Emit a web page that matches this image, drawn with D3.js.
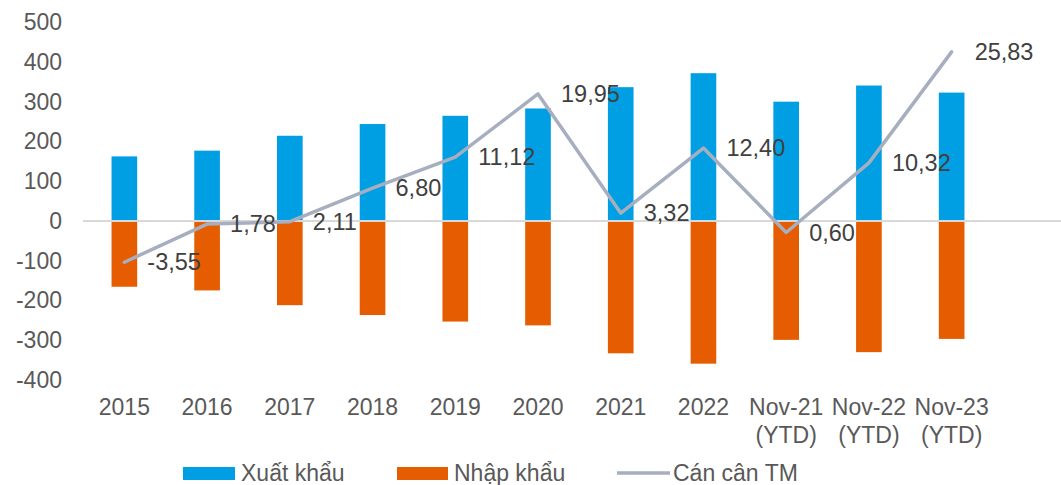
<!DOCTYPE html>
<html>
<head>
<meta charset="utf-8">
<script src="https://cdn.jsdelivr.net/npm/d3@7"></script>
<style>
  body { margin: 0; background: #fff; }
  text { font-family: "Liberation Sans", Arial, sans-serif; }
</style>
</head>
<body>
<div id="chart"></div>
<script>
var w = 1061, h = 485;

// data
var categories = ['2015', '2016', '2017', '2018', '2019', '2020', '2021', '2022', 'Nov-21\n(YTD)', 'Nov-22\n(YTD)', 'Nov-23\n(YTD)'];
var exports_ = [162.1, 176.6, 214.0, 243.5, 264.2, 282.6, 336.2, 371.3, 299.7, 340.3, 322.5];
var imports_ = [-165.6, -174.8, -211.9, -236.7, -253.1, -262.7, -332.9, -358.9, -299.1, -330.0, -296.7];
var balance = [-3.55, 1.78, 2.11, 6.80, 11.12, 19.95, 3.32, 12.40, 0.60, 10.32, 25.83];
var yTicks = [500, 400, 300, 200, 100, 0, -100, -200, -300, -400];

var blue = '#009fe3', orange = '#e65c00', grey = '#a6aebf';

var svg = d3.select('#chart').append('svg')
  .attr('width', w)
  .attr('height', h);

var x = d3.scaleBand()
  .domain(categories)
  .range([83, 993])
  .paddingInner(0.69)
  .paddingOuter(0.345);

var y = d3.scaleLinear().domain([-400, 500]).range([380, 22]);
// secondary (hidden) axis for the balance line
var y2 = d3.scaleLinear().domain([-20, 30]).range([380, 22]);

// y axis labels
svg.selectAll('.ytick')
  .data(yTicks)
  .enter().append('text')
  .attr('class', 'ytick')
  .attr('x', 62)
  .attr('y', function(d) { return y(d); })
  .attr('text-anchor', 'end')
  .attr('dominant-baseline', 'central')
  .attr('font-size', 23)
  .attr('fill', '#595959')
  .text(function(d) { return d; });

// export bars
svg.selectAll('.exp')
  .data(exports_)
  .enter().append('rect')
  .attr('class', 'exp')
  .attr('x', function(d, i) { return x(categories[i]); })
  .attr('y', function(d) { return y(d); })
  .attr('width', x.bandwidth())
  .attr('height', function(d) { return y(0) - y(d); })
  .attr('fill', blue);

// import bars
svg.selectAll('.imp')
  .data(imports_)
  .enter().append('rect')
  .attr('class', 'imp')
  .attr('x', function(d, i) { return x(categories[i]); })
  .attr('y', y(0))
  .attr('width', x.bandwidth())
  .attr('height', function(d) { return y(d) - y(0); })
  .attr('fill', orange);

// zero line
svg.append('line')
  .attr('x1', 83).attr('x2', w)
  .attr('y1', y(0)).attr('y2', y(0))
  .attr('stroke', '#d9d9d9')
  .attr('stroke-width', 2);

// balance line
var cx = function(i) { return x(categories[i]) + x.bandwidth() / 2; };
var line = d3.line()
  .x(function(d, i) { return cx(i); })
  .y(function(d) { return y2(d); });

svg.append('path')
  .datum(balance)
  .attr('d', line)
  .attr('fill', 'none')
  .attr('stroke', grey)
  .attr('stroke-width', 3.5)
  .attr('stroke-linejoin', 'round')
  .attr('stroke-linecap', 'round');

// balance labels
svg.selectAll('.blab')
  .data(balance)
  .enter().append('text')
  .attr('class', 'blab')
  .attr('x', function(d, i) { return cx(i) + 23; })
  .attr('y', function(d) { return y2(d); })
  .attr('dominant-baseline', 'central')
  .attr('font-size', 23.5)
  .attr('fill', '#404040')
  .text(function(d) { return d.toFixed(2).replace('.', ','); });

// x labels
var xl = svg.selectAll('.xlab')
  .data(categories)
  .enter().append('text')
  .attr('class', 'xlab')
  .attr('text-anchor', 'middle')
  .attr('font-size', 23)
  .attr('fill', '#595959');

xl.each(function(d, i) {
  var parts = d.split('\n');
  var t = d3.select(this);
  parts.forEach(function(p, k) {
    t.append('tspan')
      .attr('x', cx(i))
      .attr('y', 415 + k * 28)
      .text(p);
  });
});

// legend
var leg = svg.append('g');
leg.append('rect').attr('x', 183).attr('y', 467).attr('width', 52).attr('height', 13).attr('fill', blue);
leg.append('text').attr('x', 241).attr('y', 481).attr('font-size', 23).attr('fill', '#595959').text('Xuất khẩu');
leg.append('rect').attr('x', 397).attr('y', 467).attr('width', 51).attr('height', 13).attr('fill', orange);
leg.append('text').attr('x', 454).attr('y', 481).attr('font-size', 23).attr('fill', '#595959').text('Nhập khẩu');
leg.append('line').attr('x1', 617).attr('x2', 670).attr('y1', 473).attr('y2', 473)
  .attr('stroke', grey).attr('stroke-width', 3.5);
leg.append('text').attr('x', 673).attr('y', 481).attr('font-size', 23).attr('fill', '#595959').text('Cán cân TM');
</script>
</body>
</html>
